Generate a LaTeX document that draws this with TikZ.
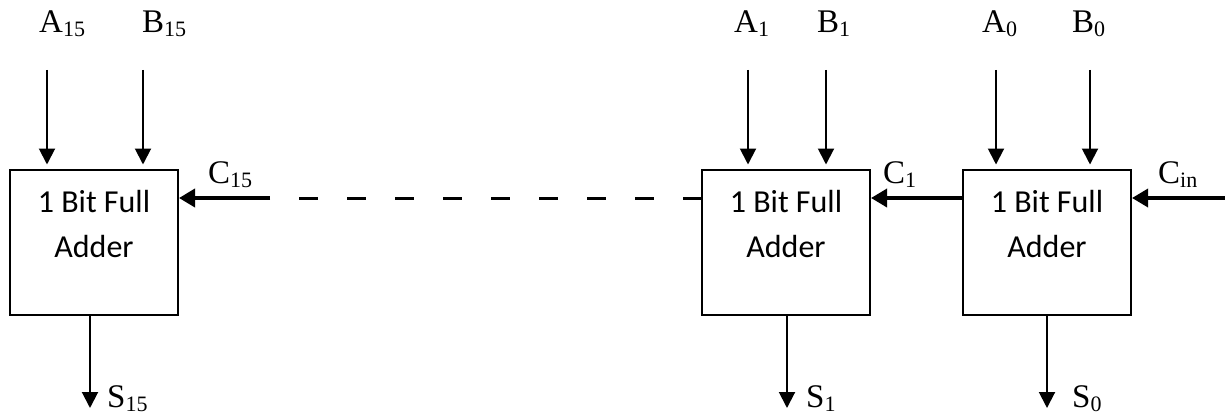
\documentclass[tikz,border=0pt]{standalone}
\usepackage{fontspec}
\setmainfont{Liberation Serif}
\newfontfamily\calibri{Carlito}
\usetikzlibrary{arrows.meta}
% lowered subscript in the style of a word-processor label
\newcommand\lowsub[1]{\raisebox{-4pt}{\fontsize{22}{22}\selectfont #1}}

\begin{document}
\begin{tikzpicture}[x=1pt,y=-1pt,
  fabox/.style={draw, line width=2pt, minimum width=168pt, minimum height=145pt, inner sep=0pt},
  fatext/.style={font=\calibri\fontsize{32}{45}\selectfont, align=center, inner sep=0pt},
  lbl/.style={font=\fontsize{33}{33}\selectfont, inner sep=0pt, anchor=base west},
  sig/.style={line width=2pt, -{Triangle[width=16pt,length=16pt]}},
  carry/.style={line width=3.5pt, -{Triangle[width=18pt,length=16pt]}},
  ripple/.style={line width=3pt, dash pattern=on 19pt off 29pt, dash phase=19pt}]
\useasboundingbox (0,0) rectangle (1225,417);

% full adder blocks
\node[fabox] (fa15) at (94,242) {};
\node[fabox] (fa1)  at (786,242) {};
\node[fabox] (fa0)  at (1047,242) {};
\node[fatext] (fa15t) at (94,224) {1 Bit Full\\Adder};
\node[fatext] (fa1t)  at (786,224) {1 Bit Full\\Adder};
\node[fatext] (fa0t)  at (1047,224) {1 Bit Full\\Adder};

% operand inputs
\node[lbl] (a15) at (39,33)   {A\lowsub{15}};
\node[lbl] (b15) at (142,33)  {B\lowsub{15}};
\node[lbl] (a1)  at (734,33)  {A\lowsub{1}};
\node[lbl] (b1)  at (817,33)  {B\lowsub{1}};
\node[lbl] (a0)  at (982,33)  {A\lowsub{0}};
\node[lbl] (b0)  at (1072,33) {B\lowsub{0}};

\coordinate (a15in) at (47,70);
\coordinate (b15in) at (143,70);
\coordinate (a1in)  at (748,70);
\coordinate (b1in)  at (826,70);
\coordinate (a0in)  at (996,70);
\coordinate (b0in)  at (1090,70);
\foreach \p/\b in {a15in/fa15, b15in/fa15, a1in/fa1, b1in/fa1, a0in/fa0, b0in/fa0}
  \draw[sig, shorten >=4pt] (\p) -- (\p |- \b.north);

% carry chain
\node[lbl] (c15) at (208,183)  {C\lowsub{15}};
\node[lbl] (c1)  at (883,183)  {C\lowsub{1}};
\node[lbl] (cin) at (1158,183) {C\lowsub{in}};

\coordinate (c15in) at (270,198);
\coordinate (cinin) at (1225,198);
\draw[carry] (c15in) -- (c15in -| fa15.east);
\draw[ripple] (c15in) -- (c15in -| fa1.west);
\draw[carry] (c15in -| fa0.west) -- (c15in -| fa1.east);
\draw[carry] (cinin) -- (cinin -| fa0.east);

% sum outputs
\coordinate (s15out) at (90,408);
\coordinate (s1out)  at (787,408);
\coordinate (s0out)  at (1047,408);
\draw[sig] (s15out |- fa15.south) -- (s15out);
\draw[sig] (s1out |- fa1.south) -- (s1out);
\draw[sig] (s0out |- fa0.south) -- (s0out);
\node[lbl] (s15) at (107,407) {S\lowsub{15}};
\node[lbl] (s1)  at (806,407) {S\lowsub{1}};
\node[lbl] (s0)  at (1072,407) {S\lowsub{0}};
\end{tikzpicture}
\end{document}
